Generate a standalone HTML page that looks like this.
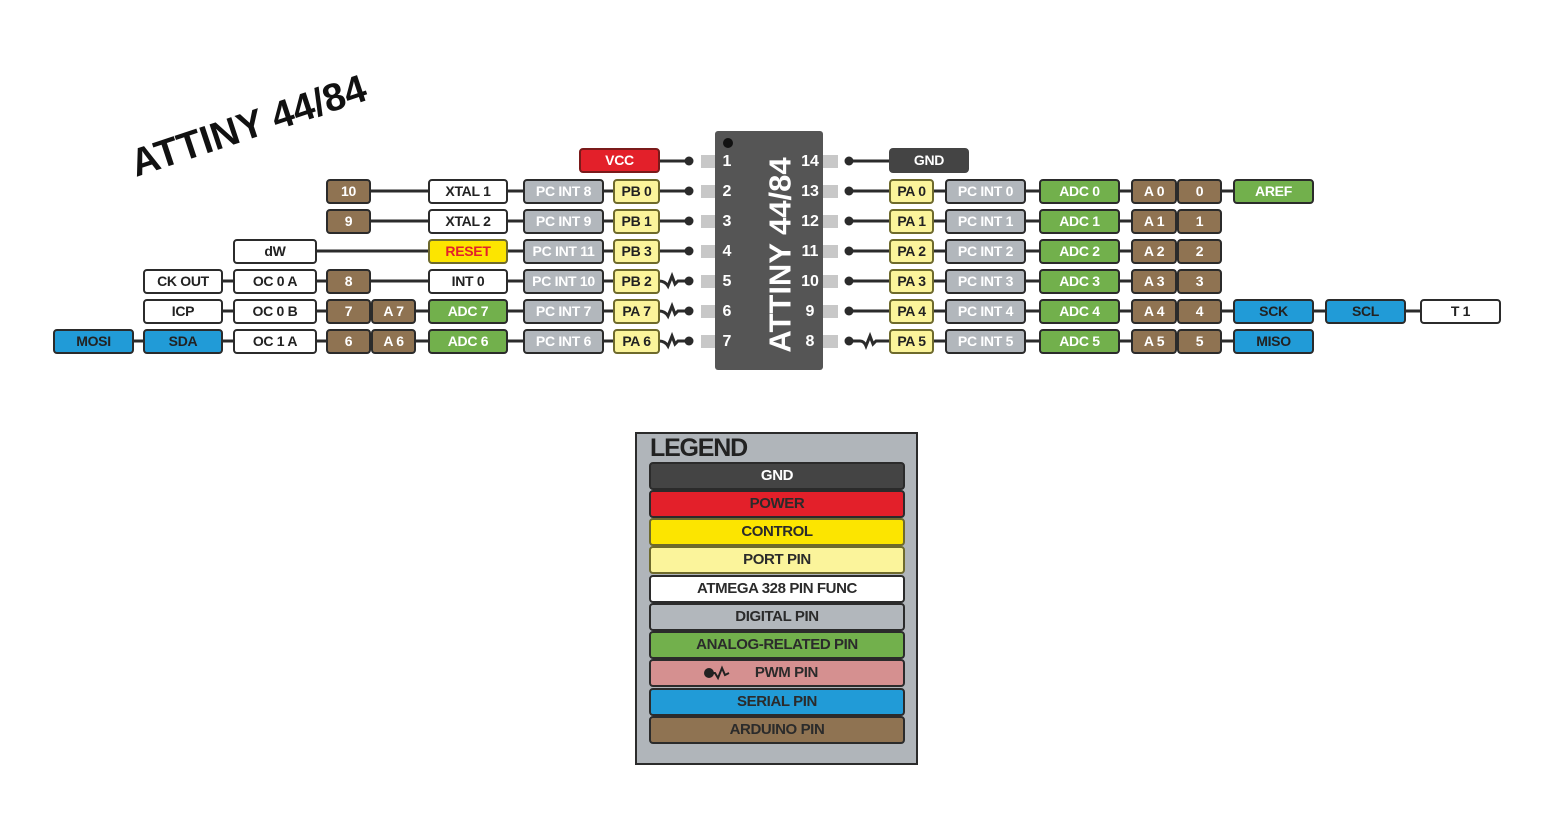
<!DOCTYPE html>
<html><head><meta charset="utf-8"><style>
body{margin:0;width:1550px;height:825px;background:#fff;position:relative;overflow:hidden;font-family:"Liberation Sans",sans-serif}
.b{position:absolute;height:25px;box-sizing:border-box;border:2.5px solid #2b2b2b;border-radius:4px;font-weight:bold;font-size:14px;text-align:center;line-height:20px;letter-spacing:-0.3px;white-space:nowrap}
.br{background:#8f7352;color:#fff}
.gr{background:#72b04c;color:#fff}
.gy{background:#b2b7bc;color:#fff}
.py{background:#fbf49b;color:#222;border-color:#6e6a2c}
.wh{background:#fff;color:#222}
.bl{background:#219bd7;color:#222}
.rd{background:#e3202a;color:#fff;border-color:#7a1a1a}
.dk{background:#444;color:#fff;border-color:#444}
.n{position:absolute;color:#fff;font-weight:bold;font-size:16px;width:30px;text-align:center}
.lg{position:absolute;left:649px;width:256px;height:28px;box-sizing:border-box;border:2.5px solid #2b2b2b;border-radius:4px;font-weight:bold;font-size:15px;text-align:center;line-height:23px;color:#2b2b2b;letter-spacing:-0.4px}
</style></head><body>
<svg width="1550" height="825" style="position:absolute;left:0;top:0">
<g stroke="#2b2b2b" stroke-width="3" fill="none">
<line x1="659" y1="161" x2="689" y2="161"/>
<line x1="370" y1="191" x2="689" y2="191"/>
<line x1="370" y1="221" x2="689" y2="221"/>
<line x1="316" y1="251" x2="689" y2="251"/>
<line x1="143" y1="281" x2="660" y2="281"/>
<line x1="143" y1="311" x2="660" y2="311"/>
<line x1="53" y1="341" x2="660" y2="341"/>
<path d="M659 281 Q665 281 668 286 L672 276 L675 284 L678 281 L689 281"/>
<path d="M659 311 Q665 311 668 316 L672 306 L675 314 L678 311 L689 311"/>
<path d="M659 341 Q665 341 668 346 L672 336 L675 344 L678 341 L689 341"/>
<line x1="849" y1="161" x2="889" y2="161"/>
<line x1="849" y1="191" x2="1313" y2="191"/>
<line x1="849" y1="221" x2="1221" y2="221"/>
<line x1="849" y1="251" x2="1221" y2="251"/>
<line x1="849" y1="281" x2="1221" y2="281"/>
<line x1="849" y1="311" x2="1500" y2="311"/>
<line x1="889" y1="341" x2="1313" y2="341"/>
<path d="M849 341 L860 341 Q864 341 866 346 L870 336 L873 344 L876 341 L889 341"/>
</g>
<g fill="#2b2b2b">
<circle cx="689" cy="161" r="4.5"/><circle cx="689" cy="191" r="4.5"/><circle cx="689" cy="221" r="4.5"/><circle cx="689" cy="251" r="4.5"/><circle cx="689" cy="281" r="4.5"/><circle cx="689" cy="311" r="4.5"/><circle cx="689" cy="341" r="4.5"/>
<circle cx="849" cy="161" r="4.5"/><circle cx="849" cy="191" r="4.5"/><circle cx="849" cy="221" r="4.5"/><circle cx="849" cy="251" r="4.5"/><circle cx="849" cy="281" r="4.5"/><circle cx="849" cy="311" r="4.5"/><circle cx="849" cy="341" r="4.5"/>
</g>
<g fill="#c8c8c8">
<rect x="701" y="155" width="15" height="13"/><rect x="701" y="185" width="15" height="13"/><rect x="701" y="215" width="15" height="13"/><rect x="701" y="245" width="15" height="13"/><rect x="701" y="275" width="15" height="13"/><rect x="701" y="305" width="15" height="13"/><rect x="701" y="335" width="15" height="13"/>
<rect x="821" y="155" width="17" height="13"/><rect x="821" y="185" width="17" height="13"/><rect x="821" y="215" width="17" height="13"/><rect x="821" y="245" width="17" height="13"/><rect x="821" y="275" width="17" height="13"/><rect x="821" y="305" width="17" height="13"/><rect x="821" y="335" width="17" height="13"/>
</g>
<rect x="715" y="131" width="108" height="239" rx="3" fill="#555"/>
<circle cx="728" cy="143" r="5" fill="#111"/>
<text x="780" y="255" transform="rotate(-90 780 255)" text-anchor="middle" dominant-baseline="central" fill="#fff" font-family="Liberation Sans" font-weight="bold" font-size="31">ATTINY 44/84</text>
<text x="136" y="177" transform="rotate(-18.4 136 177)" fill="#111" font-family="Liberation Sans" font-weight="bold" font-size="39">ATTINY 44/84</text>
</svg>

<div class="n" style="left:712px;top:153px">1</div><div class="n" style="left:712px;top:183px">2</div><div class="n" style="left:712px;top:213px">3</div><div class="n" style="left:712px;top:243px">4</div><div class="n" style="left:712px;top:273px">5</div><div class="n" style="left:712px;top:303px">6</div><div class="n" style="left:712px;top:333px">7</div>
<div class="n" style="left:795px;top:153px">14</div><div class="n" style="left:795px;top:183px">13</div><div class="n" style="left:795px;top:213px">12</div><div class="n" style="left:795px;top:243px">11</div><div class="n" style="left:795px;top:273px">10</div><div class="n" style="left:795px;top:303px">9</div><div class="n" style="left:795px;top:333px">8</div>

<div class="b rd" style="left:579px;top:148px;width:81px">VCC</div>
<div class="b dk" style="left:889px;top:148px;width:80px">GND</div>

<div class="b br" style="left:326px;top:179px;width:45px">10</div>
<div class="b wh" style="left:428px;top:179px;width:80px">XTAL 1</div>
<div class="b gy" style="left:523px;top:179px;width:81px">PC INT 8</div>
<div class="b py" style="left:613px;top:179px;width:47px">PB 0</div>

<div class="b br" style="left:326px;top:209px;width:45px">9</div>
<div class="b wh" style="left:428px;top:209px;width:80px">XTAL 2</div>
<div class="b gy" style="left:523px;top:209px;width:81px">PC INT 9</div>
<div class="b py" style="left:613px;top:209px;width:47px">PB 1</div>

<div class="b wh" style="left:233px;top:239px;width:84px">dW</div>
<div class="b py" style="left:428px;top:239px;width:80px;background:#fce500;color:#e3202a">RESET</div>
<div class="b gy" style="left:523px;top:239px;width:81px">PC INT 11</div>
<div class="b py" style="left:613px;top:239px;width:47px">PB 3</div>

<div class="b wh" style="left:143px;top:269px;width:80px">CK OUT</div>
<div class="b wh" style="left:233px;top:269px;width:84px">OC 0 A</div>
<div class="b br" style="left:326px;top:269px;width:45px">8</div>
<div class="b wh" style="left:428px;top:269px;width:80px">INT 0</div>
<div class="b gy" style="left:523px;top:269px;width:81px">PC INT 10</div>
<div class="b py" style="left:613px;top:269px;width:47px">PB 2</div>

<div class="b wh" style="left:143px;top:299px;width:80px">ICP</div>
<div class="b wh" style="left:233px;top:299px;width:84px">OC 0 B</div>
<div class="b br" style="left:326px;top:299px;width:45px">7</div>
<div class="b br" style="left:371px;top:299px;width:45px">A 7</div>
<div class="b gr" style="left:428px;top:299px;width:80px">ADC 7</div>
<div class="b gy" style="left:523px;top:299px;width:81px">PC INT 7</div>
<div class="b py" style="left:613px;top:299px;width:47px">PA 7</div>

<div class="b bl" style="left:53px;top:329px;width:81px">MOSI</div>
<div class="b bl" style="left:143px;top:329px;width:80px">SDA</div>
<div class="b wh" style="left:233px;top:329px;width:84px">OC 1 A</div>
<div class="b br" style="left:326px;top:329px;width:45px">6</div>
<div class="b br" style="left:371px;top:329px;width:45px">A 6</div>
<div class="b gr" style="left:428px;top:329px;width:80px">ADC 6</div>
<div class="b gy" style="left:523px;top:329px;width:81px">PC INT 6</div>
<div class="b py" style="left:613px;top:329px;width:47px">PA 6</div>

<div class="b py" style="left:889px;top:179px;width:45px">PA 0</div>
<div class="b gy" style="left:945px;top:179px;width:81px">PC INT 0</div>
<div class="b gr" style="left:1039px;top:179px;width:81px">ADC 0</div>
<div class="b br" style="left:1131px;top:179px;width:46px">A 0</div>
<div class="b br" style="left:1177px;top:179px;width:45px">0</div>
<div class="b gr" style="left:1233px;top:179px;width:81px">AREF</div>

<div class="b py" style="left:889px;top:209px;width:45px">PA 1</div>
<div class="b gy" style="left:945px;top:209px;width:81px">PC INT 1</div>
<div class="b gr" style="left:1039px;top:209px;width:81px">ADC 1</div>
<div class="b br" style="left:1131px;top:209px;width:46px">A 1</div>
<div class="b br" style="left:1177px;top:209px;width:45px">1</div>

<div class="b py" style="left:889px;top:239px;width:45px">PA 2</div>
<div class="b gy" style="left:945px;top:239px;width:81px">PC INT 2</div>
<div class="b gr" style="left:1039px;top:239px;width:81px">ADC 2</div>
<div class="b br" style="left:1131px;top:239px;width:46px">A 2</div>
<div class="b br" style="left:1177px;top:239px;width:45px">2</div>

<div class="b py" style="left:889px;top:269px;width:45px">PA 3</div>
<div class="b gy" style="left:945px;top:269px;width:81px">PC INT 3</div>
<div class="b gr" style="left:1039px;top:269px;width:81px">ADC 3</div>
<div class="b br" style="left:1131px;top:269px;width:46px">A 3</div>
<div class="b br" style="left:1177px;top:269px;width:45px">3</div>

<div class="b py" style="left:889px;top:299px;width:45px">PA 4</div>
<div class="b gy" style="left:945px;top:299px;width:81px">PC INT 4</div>
<div class="b gr" style="left:1039px;top:299px;width:81px">ADC 4</div>
<div class="b br" style="left:1131px;top:299px;width:46px">A 4</div>
<div class="b br" style="left:1177px;top:299px;width:45px">4</div>
<div class="b bl" style="left:1233px;top:299px;width:81px">SCK</div>
<div class="b bl" style="left:1325px;top:299px;width:81px">SCL</div>
<div class="b wh" style="left:1420px;top:299px;width:81px">T 1</div>

<div class="b py" style="left:889px;top:329px;width:45px">PA 5</div>
<div class="b gy" style="left:945px;top:329px;width:81px">PC INT 5</div>
<div class="b gr" style="left:1039px;top:329px;width:81px">ADC 5</div>
<div class="b br" style="left:1131px;top:329px;width:46px">A 5</div>
<div class="b br" style="left:1177px;top:329px;width:45px">5</div>
<div class="b bl" style="left:1233px;top:329px;width:81px">MISO</div>

<div style="position:absolute;left:635px;top:432px;width:283px;height:333px;box-sizing:border-box;background:#b0b5ba;border:2.5px solid #2b2b2b"></div>
<div style="position:absolute;left:650px;top:434px;font-weight:bold;font-size:25px;color:#222;letter-spacing:-1.2px">LEGEND</div>
<div class="lg" style="top:462px;background:#444;color:#fff">GND</div>
<div class="lg" style="top:490px;background:#e3202a">POWER</div>
<div class="lg" style="top:518px;background:#fce500;border-color:#6e6a2c">CONTROL</div>
<div class="lg" style="top:546px;background:#fbf49b;border-color:#6e6a2c">PORT PIN</div>
<div class="lg" style="top:575px;background:#fff">ATMEGA 328 PIN FUNC</div>
<div class="lg" style="top:603px;background:#b2b7bc">DIGITAL PIN</div>
<div class="lg" style="top:631px;background:#72b04c">ANALOG-RELATED PIN</div>
<div class="lg" style="top:659px;background:#d59090">&nbsp;&nbsp;&nbsp;&nbsp;&nbsp;PWM PIN
<svg width="30" height="16" style="position:absolute;left:52px;top:4px"><circle cx="6" cy="8" r="5" fill="#222"/><path d="M6 8 L12 8 L15 13 L19 3 L22 10 L26 8" stroke="#222" stroke-width="2" fill="none"/></svg></div>
<div class="lg" style="top:688px;background:#219bd7">SERIAL PIN</div>
<div class="lg" style="top:716px;background:#8f7352">ARDUINO PIN</div>
</body></html>
